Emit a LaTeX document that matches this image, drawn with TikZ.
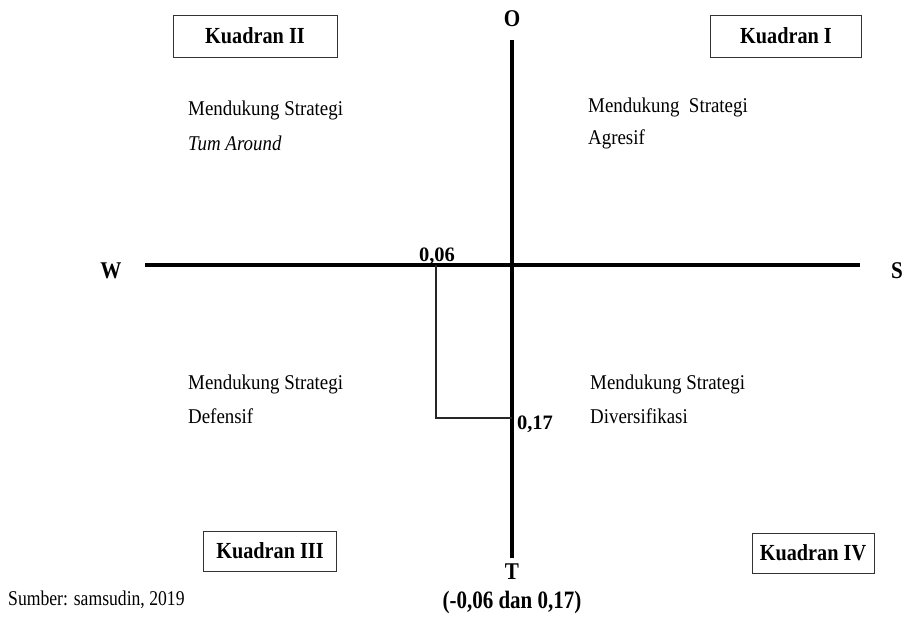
\documentclass[tikz,border=0pt]{standalone}
\usepackage{fontspec}
\setmainfont{Liberation Serif}
\newfontfamily\condfont[FakeStretch=0.84]{Liberation Serif}
\newfontfamily\bodyfont[FakeStretch=0.9]{Liberation Serif}
\newfontfamily\labfont[FakeStretch=0.88]{Liberation Serif}
\begin{document}
\begin{tikzpicture}[x=1pt,y=-1pt,
  lbl/.style={font=\fontsize{24}{26}\labfont\bfseries, inner sep=0pt},
  num/.style={font=\fontsize{20.5}{22}\selectfont\bfseries, inner sep=0pt},
  txt/.style={font=\fontsize{21}{23}\bodyfont, anchor=west, inner sep=0pt},
  kbox/.style={draw=black!80, line width=0.9pt, font=\fontsize{23}{25}\labfont\bfseries, minimum height=42pt, inner sep=0pt},
  axis/.style={line width=4pt, black},
  thin/.style={line width=1.1pt, black!85}]
\useasboundingbox (0,0) rectangle (905,616);
% axis ends
\coordinate (otop) at (512,40);
\coordinate (obot) at (512,558);
\coordinate (wl) at (145,265);
\coordinate (sr) at (860,265);
\coordinate (p1) at (436,265);
\coordinate (p2) at (436,418);
\coordinate (p3) at (512,418);
\draw[axis] (otop) -- (obot);
\draw[axis] (wl) -- (sr);
\draw[thin] (p1) -- (p2) -- (p3);
% axis labels
\node[lbl] (O) at (512,19) {O};
\node[lbl] (W) at (111,271) {W};
\node[lbl] (S) at (897,271) {S};
\node[lbl] (T) at (512,572) {T};
\node[lbl, font=\fontsize{25}{27}\condfont\bfseries] (res) at (512,602) {(-0,06 dan 0,17)};
\node[num] (v06) at (437,256) {0,06};
\node[num] (v17) at (535,424) {0,17};
% quadrant boxes
\node[kbox, minimum width=164pt] (k2) at (255,36) {Kuadran II};
\node[kbox, minimum width=151pt] (k1) at (786,36) {Kuadran I};
\node[kbox, minimum width=133pt, minimum height=40pt] (k3) at (270,551) {Kuadran III};
\node[kbox, minimum width=122pt, minimum height=40pt] (k4) at (813,553) {Kuadran IV};
% strategy texts
\node[txt] (t2a) at (188,110) {Mendukung Strategi};
\node[txt] (t2b) at (188,143) {\itshape Tum Around};
\node[txt] (t1a) at (588,107) {Mendukung\ \ Strategi};
\node[txt] (t1b) at (588,139) {Agresif};
\node[txt] (t3a) at (188,384) {Mendukung Strategi};
\node[txt] (t3b) at (188,416) {Defensif};
\node[txt] (t4a) at (590,384) {Mendukung Strategi};
\node[txt] (t4b) at (590,416) {Diversifikasi};
\node[txt, font=\fontsize{21}{23}\condfont] (src) at (8,600) {Sumber: samsudin, 2019};
\end{tikzpicture}
\end{document}
